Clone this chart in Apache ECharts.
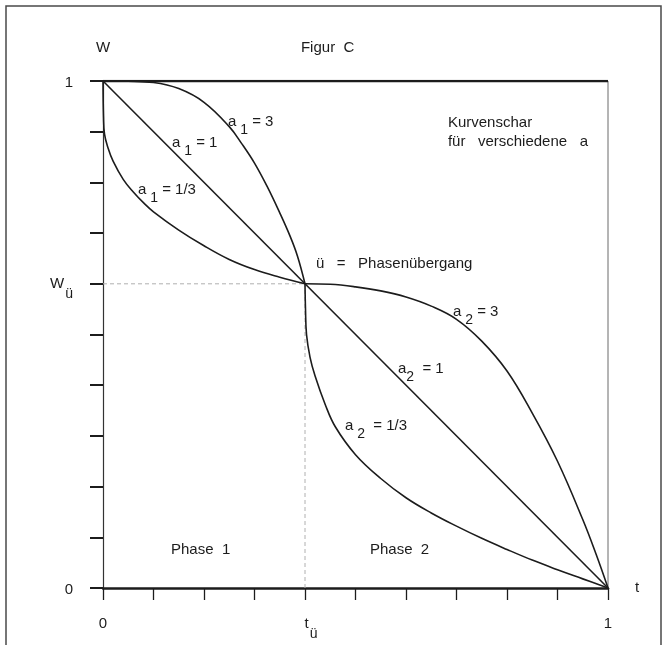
<!DOCTYPE html>
<html><head><meta charset="utf-8">
<script src="https://cdn.jsdelivr.net/npm/echarts@6/dist/echarts.min.js"></script>
<style>html,body{margin:0;padding:0;background:#fff}#c{width:668px;height:645px}</style>
</head><body><div id="c"></div>
<script>
// ---- data ----
const tU = 0.4, wU = 0.6;
const xLabelValues = [0, 0.4, 1];
const xLabelMain = ['0', 't', '1'];
const xLabelSub = ['', 'ü', ''];
const yLabelValues = [0, 0.6, 1];
const yLabelMain = ['0', 'W', '1'];
const yLabelSub = ['', 'ü', ''];

const curveA1_3 = [[0,1],[0.05,0.9995],[0.1,0.997],[0.15,0.985],[0.2,0.958],[0.25,0.910],[0.275,0.876],[0.3,0.838],[0.325,0.792],[0.35,0.740],[0.37,0.695],[0.385,0.655],[0.4,0.6]];
const curveA1_1 = [[0,1],[0.4,0.6]];
const curveA1_13 = [[0,1],[0.001,0.93],[0.003,0.895],[0.01,0.868],[0.02,0.842],[0.04,0.806],[0.06,0.781],[0.08,0.760],[0.1,0.742],[0.15,0.706],[0.2,0.675],[0.25,0.648],[0.3,0.628],[0.35,0.613],[0.4,0.6]];
const curveA2_3 = [[0.4,0.6],[0.45,0.599],[0.5,0.594],[0.55,0.586],[0.6,0.574],[0.65,0.556],[0.7,0.530],[0.75,0.487],[0.8,0.428],[0.85,0.345],[0.9,0.250],[0.95,0.135],[0.977,0.065],[1,0]];
const curveA2_1 = [[0.4,0.6],[1,0]];
const curveA2_13 = [[0.4,0.6],[0.401,0.55],[0.403,0.50],[0.41,0.455],[0.42,0.418],[0.44,0.362],[0.46,0.318],[0.5,0.263],[0.55,0.216],[0.6,0.178],[0.65,0.148],[0.7,0.122],[0.75,0.098],[0.8,0.076],[0.85,0.055],[0.9,0.036],[0.95,0.018],[1,0]];

const frameTop = [[0,1],[1,1]];
const frameRight = [[1,0],[1,1]];
const guideV = [[tU,0],[tU,wU]];
const guideH = [[0,wU],[tU,wU]];

// ---- styling ----
const FONT = '"Liberation Sans", Arial, Helvetica, sans-serif';
const INK = '#1c1c1c';

function labelFor(values, mains, subs, v) {
  for (let i = 0; i < values.length; i++) {
    if (Math.abs(v - values[i]) < 1e-6) {
      return subs[i] ? '{mt|' + mains[i] + '}{s|' + subs[i] + '}' : '{m|' + mains[i] + '}';
    }
  }
  return '';
}

const chart = echarts.init(document.getElementById('c'), null, {renderer: 'canvas'});

function lineSeries(data, opts) {
  return Object.assign({
    type: 'line', data: data, symbol: 'none', silent: true, animation: false,
    lineStyle: {color: INK, width: 1.6}
  }, opts || {});
}

chart.setOption({
  backgroundColor: '#ffffff',
  animation: false,
  grid: {left: 103, right: 60, top: 81, bottom: 57},
  xAxis: {
    type: 'value', min: 0, max: 1, interval: 0.1,
    name: 't', nameLocation: 'end', nameGap: 27,
    nameTextStyle: {fontFamily: FONT, fontSize: 15, color: INK, align: 'left', verticalAlign: 'middle'},
    axisLine: {show: true, onZero: false, lineStyle: {color: INK, width: 2.5}},
    axisTick: {show: true, inside: false, length: 12, lineStyle: {color: INK, width: 1.3}},
    axisLabel: {
      margin: 28, verticalAlign: 'top',
      formatter: v => labelFor(xLabelValues, xLabelMain, xLabelSub, v),
      rich: {
        m: {fontFamily: FONT, fontSize: 15, color: INK, lineHeight: 16, verticalAlign: 'top'},
        mt: {fontFamily: FONT, fontSize: 15, color: INK, lineHeight: 16, verticalAlign: 'top', padding: [0, 0, 0, 12]},
        s: {fontFamily: FONT, fontSize: 14, color: INK, lineHeight: 16, padding: [11, 0, 0, 1], verticalAlign: 'top'}
      }
    },
    splitLine: {show: false}
  },
  yAxis: {
    type: 'value', min: 0, max: 1, interval: 0.1,
    name: 'W', nameLocation: 'end', nameGap: 26,
    nameTextStyle: {fontFamily: FONT, fontSize: 15, color: INK, align: 'center'},
    axisLine: {show: true, onZero: false, lineStyle: {color: '#333', width: 1.2}},
    axisTick: {show: true, inside: false, length: 13, lineStyle: {color: INK, width: 2}},
    axisLabel: {
      margin: 30,
      formatter: v => labelFor(yLabelValues, yLabelMain, yLabelSub, v),
      rich: {
        m: {fontFamily: FONT, fontSize: 15, color: INK, lineHeight: 16, verticalAlign: 'middle', padding: [3, 0, 0, 0]},
        mt: {fontFamily: FONT, fontSize: 15, color: INK, lineHeight: 16, verticalAlign: 'middle'},
        s: {fontFamily: FONT, fontSize: 14, color: INK, lineHeight: 16, padding: [21, 0, 0, 1], verticalAlign: 'middle'}
      }
    },
    splitLine: {show: false}
  },
  series: [
    lineSeries(guideV, {lineStyle: {color: '#b0b0b0', width: 1, type: [4, 3]}}),
    lineSeries(guideH, {lineStyle: {color: '#b0b0b0', width: 1, type: [4, 3]}}),
    lineSeries(frameRight, {lineStyle: {color: '#6a6a6a', width: 1}}),
    lineSeries(frameTop, {lineStyle: {color: INK, width: 2.6}}),
    lineSeries(curveA1_3, {smooth: 0.4}),
    lineSeries(curveA1_1),
    lineSeries(curveA1_13, {smooth: 0.4}),
    lineSeries(curveA2_3, {smooth: 0.4}),
    lineSeries(curveA2_1),
    lineSeries(curveA2_13, {smooth: 0.4})
  ]
});

// ---- annotations (anchored in data coordinates) ----
const subRich = {
  m: {fontFamily: FONT, fontSize: 15, fill: INK, lineHeight: 16, verticalAlign: 'top'},
  s: {fontFamily: FONT, fontSize: 14, fill: INK, lineHeight: 16, padding: [9, 0, 0, 0], verticalAlign: 'top'}
};
const notes = [
  {t: 0.2475, w: 0.935, text: '{m|a}{s| 1}{m| = 3}'},
  {t: 0.1366, w: 0.8935, text: '{m|a}{s| 1}{m| = 1}'},
  {t: 0.0693, w: 0.8008, text: '{m|a}{s| 1}{m| = 1/3}'},
  {t: 0.693, w: 0.560, text: '{m|a}{s| 2}{m| = 3}'},
  {t: 0.584, w: 0.4477, text: '{m|a}{s|2}{m|  = 1}'},
  {t: 0.479, w: 0.335, text: '{m|a}{s| 2}{m|  = 1/3}'},
  {t: 0.4218, w: 0.655, text: '{m|ü   =   Phasenübergang}'},
  {t: 0.1347, w: 0.0907, text: '{m|Phase  1}'},
  {t: 0.5287, w: 0.0907, text: '{m|Phase  2}'},
  {t: 0.392, w: 1.081, text: '{m|Figur  C}'}
];
const graphics = [{
  type: 'rect', silent: true,
  shape: {x: 6, y: 6, width: 655, height: 660},
  style: {fill: 'none', stroke: '#4a4a4a', lineWidth: 1.5}
}];
notes.forEach(n => {
  const p = chart.convertToPixel({gridIndex: 0}, [n.t, n.w]);
  graphics.push({
    type: 'text', silent: true, x: p[0], y: p[1],
    style: {text: n.text, rich: subRich, align: 'left', verticalAlign: 'top', fill: INK, font: '15px ' + FONT}
  });
});
const kp = chart.convertToPixel({gridIndex: 0}, [0.683, 0.937]);
graphics.push({
  type: 'text', silent: true, x: kp[0], y: kp[1],
  style: {text: 'Kurvenschar\nfür   verschiedene   a', align: 'left', verticalAlign: 'top', fill: INK,
          font: '15px ' + FONT, lineHeight: 19}
});
chart.setOption({graphic: graphics});
</script>
</body></html>
